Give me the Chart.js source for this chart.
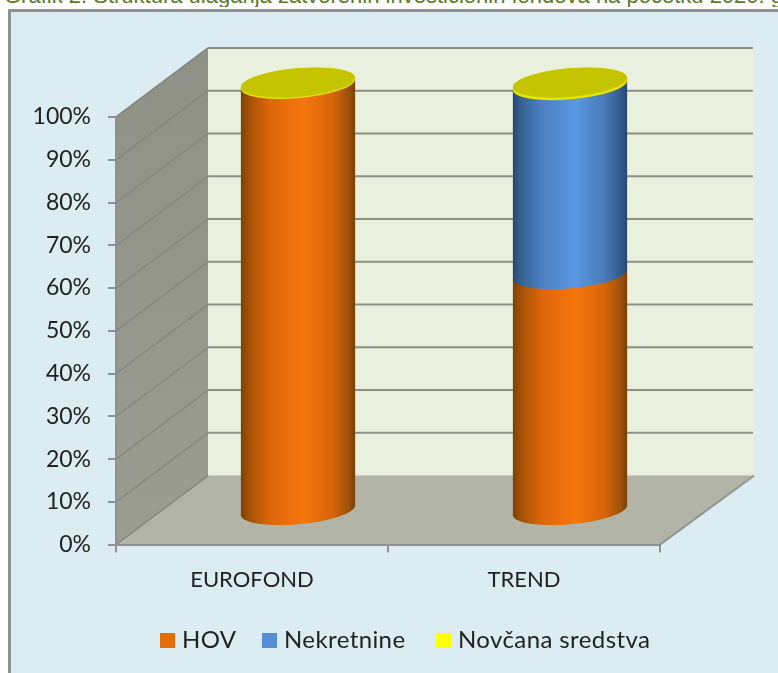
<!DOCTYPE html>
<html><head><meta charset="utf-8">
<style>
html,body{margin:0;padding:0;background:#fff;overflow:hidden;width:778px;height:673px}
#t{position:absolute;left:4px;top:-15px;width:774px;white-space:nowrap;overflow:hidden;font:22px/22px "Liberation Sans",Arial,sans-serif;color:#5a7a28}
canvas{position:absolute;left:0;top:0}
</style></head><body>
<div id="t">Grafik 2. Struktura ulaganja zatvorenih investicionih fondova na početku 2020. g</div>
<canvas id="c" width="778" height="673"></canvas>
<script src="https://cdn.jsdelivr.net/npm/chart.js@4"></script>
<script>
const categories=["EUROFOND","TREND"];
const hov=[99.9,55.4];
const nekretnine=[0,44.2];
const novcana=[0.1,0.4];
const seriesNames=["HOV","Nekretnine","Novčana sredstva"];
const legendColors=["#e46c0a","#558ed5","#ffff00"];
const bodyStops=[
 [[0,"#7c3f05"],[.06,"#a04f04"],[.25,"#dc660a"],[.55,"#f6760e"],[.8,"#d8650a"],[.95,"#99500a"],[1,"#7c3f05"]],
 [[0,"#27476f"],[.06,"#35608f"],[.25,"#4a80c2"],[.55,"#5b97e2"],[.8,"#487bb8"],[.95,"#33598a"],[1,"#27476f"]],
 [[0,"#e6e400"],[1,"#e6e400"]]
];
const DX=92,DY=-69;
const FONT='Lato, Carlito, sans-serif';
const legendStarts=[160,262,436];
const page={
 id:"page3d",
 beforeDraw(ch){
  const c=ch.ctx,a=ch.chartArea,y=ch.scales.y;
  c.save();
  c.fillStyle="#dbedf3";c.fillRect(9,9,769,664);
  c.fillStyle="#8e9092";c.fillRect(8,9,770,3);c.fillRect(8,9,3,664);
  const L=a.left,R=a.right,T=a.top,B=a.bottom;
  c.fillStyle="#e9f0dd";c.fillRect(L+DX,T+DY,R-L+2,B-T);
  c.fillStyle="#b1b4a7";c.beginPath();c.moveTo(L,B);c.lineTo(L+DX,B+DY);c.lineTo(R+DX+2,B+DY);c.lineTo(R,B);c.closePath();c.fill();
  const g=c.createLinearGradient(0,T+DY,0,B);g.addColorStop(0,"#8f9187");g.addColorStop(1,"#9b9d91");
  c.fillStyle=g;c.beginPath();c.moveTo(L,T);c.lineTo(L+DX,T+DY);c.lineTo(L+DX,B+DY);c.lineTo(L,B);c.closePath();c.fill();
  y.ticks.forEach(t=>{
   const p=y.getPixelForValue(t.value);
   c.strokeStyle="#86887f";c.lineWidth=1.6;c.beginPath();c.moveTo(L,p);c.lineTo(L+DX,p+DY);c.stroke();
   if(t.value>0){c.strokeStyle="#8e8e88";c.lineWidth=2;c.beginPath();c.moveTo(L+DX,p+DY);c.lineTo(R+DX+1,p+DY);c.stroke();}
  });
  c.strokeStyle="#96988f";c.lineWidth=2;c.beginPath();c.moveTo(R,B);c.lineTo(R+DX+2,B+DY);c.stroke();
  c.restore();
 },
 beforeDatasetDraw(){return false;},
 afterDatasetsDraw(ch){
  const c=ch.ctx,n=ch.data.datasets.length;
  for(let i=0;i<n;i++){
   ch.getDatasetMeta(i).data.forEach((b,j)=>{
    if(!ch.data.datasets[i].data[j])return;
    const cx=b.x+DX/2,rx=b.width/2,ry=14.2,tilt=-0.088;
    const a=rx/Math.cos(tilt);
    const top=b.y+DY/2,bot=b.base+DY/2+1;
    const gr=c.createLinearGradient(cx-rx,0,cx+rx,0);
    bodyStops[i].forEach(s=>gr.addColorStop(s[0],s[1]));
    c.save();
    c.fillStyle=gr;
    c.beginPath();
    c.ellipse(cx,bot,a,ry,tilt,Math.PI,0,true);
    c.ellipse(cx,top,a,ry,tilt,0,Math.PI,true);
    c.closePath();c.fill();
    if(i===n-1){
     c.fillStyle="#c5c400";
     c.beginPath();c.ellipse(cx,top,a,ry,tilt,0,Math.PI*2);c.fill();
    }
    c.restore();
   });
  }
  c.save();
  c.font="24px "+FONT;c.textBaseline="middle";c.textAlign="left";c.letterSpacing="0.4px";
  seriesNames.forEach((s,i)=>{
   const x=legendStarts[i];
   c.fillStyle=legendColors[i];c.fillRect(x,633,15,15);
   c.fillStyle="#222";c.fillText(s,x+22,640);
  });
  c.restore();
 }
};
new Chart(document.getElementById("c"),{
 type:"bar",
 plugins:[page],
 data:{labels:categories,datasets:[
  {label:seriesNames[0],data:hov,backgroundColor:legendColors[0],stack:"s"},
  {label:seriesNames[1],data:nekretnine,backgroundColor:legendColors[1],stack:"s"},
  {label:seriesNames[2],data:novcana,backgroundColor:legendColors[2],stack:"s"}
 ]},
 options:{
  responsive:false,animation:false,
  datasets:{bar:{barPercentage:1,categoryPercentage:0.42}},
  layout:{padding:{left:0,right:118,top:117,bottom:66}},
  scales:{
   x:{stacked:true,
      grid:{display:true,drawOnChartArea:false,drawTicks:true,tickLength:8,color:"#8e9092",lineWidth:2,offset:true},
      border:{color:"#8e9092",width:2},
      ticks:{color:"#222",font:{family:FONT,size:22},padding:14,maxRotation:0}},
   y:{stacked:true,min:0,max:100,
      grid:{display:true,drawOnChartArea:false,tickLength:8,color:"#8e9092",lineWidth:2},
      border:{color:"#8e9092",width:2},
      afterFit(s){s.width=116;},
      ticks:{stepSize:10,color:"#222",font:{family:FONT,size:23},padding:17,callback:v=>v+"%"}}
  },
  plugins:{title:{display:false},tooltip:{enabled:false},legend:{display:false}}
 }
});
</script></body></html>
